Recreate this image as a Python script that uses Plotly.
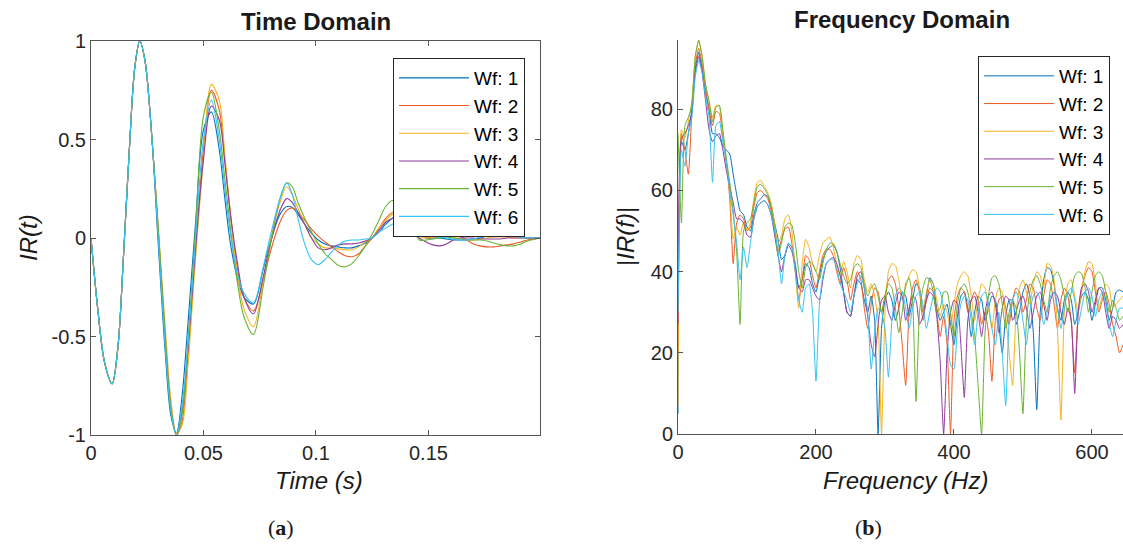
import plotly.graph_objects as go

# ---------------- Time domain data ----------------
t = [0, 0.003, 0.006, 0.0094, 0.012, 0.0145, 0.017, 0.0195, 0.0217, 0.024, 0.027,
     0.030, 0.033, 0.0355, 0.038, 0.0405, 0.043, 0.0465, 0.050, 0.0535, 0.057, 0.0595,
     0.062, 0.065, 0.068, 0.0722, 0.0765, 0.0795, 0.084, 0.087, 0.0895, 0.092, 0.095,
     0.098, 0.101, 0.104, 0.107, 0.110, 0.113, 0.116, 0.119, 0.122, 0.125, 0.128,
     0.131, 0.134, 0.137, 0.140, 0.143, 0.146, 0.149, 0.152, 0.155, 0.158, 0.161,
     0.164, 0.167, 0.170, 0.173, 0.176, 0.179, 0.182, 0.185, 0.188, 0.191, 0.194,
     0.1975, 0.1996]

ir_start = [0, -0.36, -0.63, -0.74, -0.55, -0.08, 0.44, 0.87, 1.0, 0.9, 0.52]

ir_wf1 = ir_start + [-0.05, -0.58, -0.9, -0.99, -0.8, -0.45, 0.08, 0.55, 0.64, 0.45, 0.2,
                     -0.03, -0.2, -0.3, -0.335, -0.16, -0.03, 0.12, 0.16, 0.155, 0.12, 0.07,
                     0.025, -0.01, -0.03, -0.04, -0.045, -0.05, -0.05, -0.04, -0.025, 0.0,
                     0.03, 0.07, 0.1, 0.11, 0.09, 0.05, 0.015, 0.0, 0.0, 0.0, -0.005, -0.01,
                     -0.01, -0.01, -0.005, 0.0, 0.01, 0.015, 0.015, 0.015, 0.01, 0.005, 0.0,
                     0.0, 0.0]
ir_wf2 = ir_start + [0.02, -0.5, -0.85, -1.0, -0.93, -0.62, -0.05, 0.45, 0.75, 0.65, 0.4,
                     0.12, -0.15, -0.3, -0.37, -0.22, -0.08, 0.08, 0.14, 0.153, 0.13, 0.09,
                     0.045, 0.01, -0.02, -0.045, -0.07, -0.09, -0.095, -0.08, -0.04, 0.0,
                     0.05, 0.1, 0.13, 0.14, 0.12, 0.07, 0.02, 0.0, 0.005, 0.01, 0.02, 0.02,
                     0.01, -0.01, -0.03, -0.04, -0.045, -0.045, -0.04, -0.035, -0.03, -0.02,
                     -0.01, -0.005, 0.0]
ir_wf3 = ir_start + [0.04, -0.45, -0.82, -0.99, -0.95, -0.66, -0.1, 0.4, 0.78, 0.7, 0.42,
                     0.12, -0.18, -0.36, -0.45, -0.22, -0.03, 0.18, 0.26, 0.22, 0.15, 0.07,
                     0.0, -0.03, -0.05, -0.05, -0.055, -0.06, -0.06, -0.045, -0.02, 0.0,
                     0.05, 0.09, 0.12, 0.12, 0.1, 0.05, 0.01, 0.0, 0.005, 0.01, 0.01, 0.005,
                     -0.005, -0.01, -0.01, -0.005, 0.0, 0.005, 0.005, 0.005, 0.0, 0.0, 0.0,
                     0.0, 0.0]
ir_wf4 = ir_start + [0.0, -0.52, -0.87, -1.0, -0.88, -0.58, -0.05, 0.4, 0.67, 0.6, 0.38,
                     0.12, -0.12, -0.3, -0.385, -0.2, -0.04, 0.14, 0.2, 0.18, 0.13, 0.07,
                     0.0, -0.05, -0.06, -0.05, -0.035, -0.03, -0.03, -0.025, -0.015, 0.0,
                     0.04, 0.08, 0.1, 0.1, 0.08, 0.04, 0.0, -0.02, -0.035, -0.04, -0.03,
                     -0.01, 0.0, 0.0, 0.0, -0.005, -0.005, -0.005, -0.005, 0.0, 0.0, 0.0,
                     0.0, 0.0, 0.0]
ir_wf5 = ir_start + [0.03, -0.5, -0.86, -1.0, -0.9, -0.55, 0.05, 0.62, 0.74, 0.55, 0.3,
                     0.05, -0.22, -0.4, -0.49, -0.25, -0.05, 0.2, 0.28, 0.26, 0.18, 0.1,
                     0.03, -0.03, -0.08, -0.11, -0.14, -0.146, -0.13, -0.09, -0.04, 0.02,
                     0.09, 0.16, 0.19, 0.18, 0.13, 0.05, -0.01, -0.01, -0.005, 0.0, 0.005,
                     0.0, -0.005, -0.01, -0.01, -0.01, -0.015, -0.025, -0.035, -0.04, -0.04,
                     -0.03, -0.015, -0.005, 0.0]
ir_wf6 = ir_start + [-0.02, -0.55, -0.88, -1.0, -0.85, -0.55, 0.0, 0.5, 0.7, 0.5, 0.25,
                     0.02, -0.18, -0.28, -0.33, -0.15, 0.0, 0.2, 0.28, 0.22, 0.1, -0.03,
                     -0.11, -0.135, -0.11, -0.07, -0.035, -0.015, -0.01, -0.01, -0.005, 0.0,
                     0.03, 0.05, 0.07, 0.08, 0.07, 0.04, 0.015, 0.01, 0.01, 0.005, 0.0,
                     -0.005, -0.01, -0.01, -0.005, 0.005, 0.015, 0.02, 0.02, 0.015, 0.01,
                     0.005, 0.0, 0.0, 0.0]

# ---------------- Frequency domain data ----------------
freq = list(range(0, 650, 5))

mag_wf1 = [5, 72, 70, 74, 80, 90, 94, 90, 84, 80,
           74, 74, 73, 71, 70, 69, 64, 59, 55, 54,
           51, 50, 54, 57, 58, 59, 58.5, 56, 52, 48,
           43, 44, 47, 46, 42, 36, 38, 42, 41, 37,
           35, 39, 43, 45, 46, 46.5, 45, 41, 35, 30,
           29, 34, 38, 37, 33, 30, 34, 28, 0, 26,
           33, 35, 33, 28, 31, 35, 34, 29, 33, 37,
           36, 30, 34, 38.5, 37, 31, 28, 30, 32, 27,
           22, 29, 34, 35, 31, 24, 30, 34, 33, 28,
           31, 34, 33, 27, 20, 29, 33, 33, 27, 30,
           35, 37, 34, 25, 6, 30, 38, 41, 40.5, 37,
           31, 28, 33, 35, 33, 27, 30, 34, 35, 33,
           28, 32, 36, 36, 33, 28, 31, 35, 35.5, 35]
mag_wf2 = [20, 74, 70, 64, 79, 91, 95, 91, 85, 80,
           76, 79.5, 79, 73, 67, 58, 42, 52, 54, 53,
           50, 51, 56, 59.5, 60, 59, 58, 55, 50, 45,
           48, 50.5, 51, 47, 40, 33, 38, 44, 43, 39,
           36, 40, 44, 45.5, 45.5, 44, 40, 37, 41, 38,
           33, 37, 40, 38, 31, 26, 32, 36, 35, 30,
           34, 38, 39, 37, 31, 22, 12, 30, 36, 38,
           35, 28, 33, 36, 35, 30, 24, 29, 22, 0,
           28, 34, 36, 35, 30, 33, 35, 33, 27, 30,
           25, 13, 28, 33, 34, 31, 27, 33, 36, 35,
           30, 33, 37, 36, 31, 28, 34, 38, 37, 32,
           26, 33, 36, 34, 28, 15, 30, 36, 39, 41,
           40, 35, 30, 33, 35, 32, 27, 24, 20, 22]
mag_wf3 = [7, 75, 73, 77, 82, 93, 97, 93, 86, 82,
           78, 81, 80.5, 74, 67, 60, 48, 51, 49, 52,
           50, 52, 58, 62, 62.5, 61, 59.5, 57, 52, 47,
           49, 53, 54, 50, 40, 31, 42, 48, 46, 42,
           40, 44, 47, 48, 48.5, 46, 42, 39, 42.5, 40,
           36, 42, 44, 43, 38, 35, 37, 34, 28, 0,
           30, 40, 42, 41.5, 38, 33, 36, 39, 40.5, 40,
           36, 30, 35, 38, 37, 33, 29, 32, 30, 26,
           32, 37, 39, 40, 39, 34, 28, 33, 37, 36,
           31, 26, 33, 36, 35, 29, 20, 12, 30, 36,
           38, 35, 32, 37, 40, 39, 36, 42, 41.5, 38,
           26, 3.5, 30, 37, 38, 34, 30, 35, 40, 42.5,
           42, 37, 31, 34, 37, 36, 31, 32, 33, 34]
mag_wf4 = [27, 73, 74, 76, 79, 89, 93, 89, 82, 75,
           72, 73.5, 74, 70, 65, 61, 57, 53, 53, 52,
           49, 48.5, 53, 56, 57, 57.5, 56.5, 54, 49, 44,
           40, 44, 46.5, 45, 41, 36, 35, 38, 38, 36,
           34, 33, 38, 42, 43, 43.5, 42, 39, 35, 30,
           29, 34, 39, 40, 36, 29, 22, 19, 27, 33,
           34, 30, 28, 32, 35, 34, 28, 31, 34, 33,
           27, 29, 33, 35, 34, 29, 18, 0, 20, 30,
           33, 32, 22, 9, 28, 33, 34, 30, 24, 30,
           34, 35, 32, 25, 31, 34, 33, 28, 30, 33,
           34, 31, 26, 30, 34, 35, 32, 28, 33, 35,
           34, 30, 27, 31, 28, 10, 30, 36, 37, 35,
           30, 33, 36, 35, 30, 26, 29, 28, 26, 27]
mag_wf5 = [74, 52, 76, 78, 81, 93, 97, 93, 86, 82,
           77, 80.5, 81, 75, 68, 62, 55, 45, 27, 50,
           52, 53, 57, 61, 61.5, 60.5, 59, 56, 51, 44,
           47, 51, 52, 51.5, 47, 40, 36, 41, 42.5, 42,
           40, 38, 42, 45.5, 47, 47, 45, 42, 39, 37,
           38, 41, 42, 41, 37, 34, 36, 37, 34, 30,
           34, 37, 36, 31, 25, 30, 37, 38.5, 33, 8,
           30, 36, 38.5, 38, 35, 30, 31, 35, 35, 30,
           24, 32, 36, 37, 35, 30, 24, 12, 0, 25,
           34, 38.5, 39, 37, 32, 26, 30, 33, 31, 20,
           5, 28, 35, 38, 39, 37, 33, 30, 36, 39,
           40, 38, 34, 30, 35, 39, 40, 39.5, 36, 30,
           35, 39, 40, 39, 35, 30, 33, 31, 28, 29]
mag_wf6 = [30, 70, 66, 74, 78, 88, 92, 89, 83, 78,
           62, 76, 77, 72, 67, 60, 54, 47, 38, 46,
           41, 47, 53, 56, 57, 57.5, 56.5, 54, 50, 45,
           37, 44, 47, 46, 40, 33, 30, 36, 37, 30,
           13, 32, 39, 42, 43, 43, 41, 37, 35, 33,
           30, 34, 37, 39, 36, 30, 16, 25, 31, 30,
           26, 14, 28, 34, 36, 35, 31, 26, 31, 34,
           35, 32, 26, 30, 34, 36, 35, 31, 24, 17,
           16, 26, 32, 34, 33, 28, 22, 30, 34, 35,
           32, 26, 22, 30, 20, 7, 28, 33, 35, 33,
           28, 22, 30, 34, 35, 33, 27, 30, 34, 35,
           31, 26, 31, 35, 36, 33, 27, 31, 35, 36,
           34, 29, 33, 35, 32, 27, 24, 28, 31, 31]

names = ["Wf: 1", "Wf: 2", "Wf: 3", "Wf: 4", "Wf: 5", "Wf: 6"]
colors = ["#0072BD", "#EE5A24", "#F5B21A", "#8E3B9E", "#68B232", "#35C3F2"]
time_series = [ir_wf1, ir_wf2, ir_wf3, ir_wf4, ir_wf5, ir_wf6]
freq_series = [mag_wf1, mag_wf2, mag_wf3, mag_wf4, mag_wf5, mag_wf6]

FONT = "Liberation Sans, Arial, Helvetica, sans-serif"
W, H = 1123, 544

fig = go.Figure()
for i in range(6):
    fig.add_trace(go.Scatter(
        x=t, y=time_series[i], mode="lines", name=names[i],
        line=dict(color=colors[i], width=1.1, shape="spline", smoothing=0.9),
        xaxis="x", yaxis="y", legend="legend", legendgroup=f"t{i}"))
for i in range(6):
    fig.add_trace(go.Scatter(
        x=freq, y=freq_series[i], mode="lines", name=names[i],
        line=dict(color=colors[i], width=1.0, shape="spline", smoothing=0.5),
        xaxis="x2", yaxis="y2", legend="legend2", legendgroup=f"f{i}"))

axis_common = dict(showgrid=False, zeroline=False, showline=True, linecolor="#555555",
                   linewidth=1, ticks="inside", ticklen=5, tickcolor="#555555",
                   automargin=False,
                   tickfont=dict(family=FONT, size=20, color="#262626"))

legend_common = dict(xanchor="left", yanchor="top", bgcolor="white",
                     bordercolor="#262626", borderwidth=1,
                     font=dict(family=FONT, size=19, color="black"),
                     tracegroupgap=0, itemwidth=70)

fig.update_layout(
    width=W, height=H, margin=dict(l=0, r=0, t=0, b=0, pad=0, autoexpand=False),
    paper_bgcolor="white", plot_bgcolor="white",
    xaxis=dict(domain=[91 / W, 540 / W], range=[0, 0.1996], anchor="y",
               tickvals=[0, 0.05, 0.1, 0.15], ticktext=["0", "0.05", "0.1", "0.15"],
               mirror="ticks", **axis_common),
    yaxis=dict(domain=[1 - 435 / H, 1 - 41 / H], range=[-1, 1], anchor="x",
               tickvals=[-1, -0.5, 0, 0.5, 1], ticktext=["-1", "-0.5", "0", "0.5", "1"],
               mirror="ticks", **axis_common),
    xaxis2=dict(domain=[678 / W, 1.0], range=[0, 645], anchor="y2",
                tickvals=[0, 200, 400, 600], **axis_common),
    yaxis2=dict(domain=[1 - 434 / H, 1 - 39.5 / H], range=[0, 97.2], anchor="x2",
                tickvals=[0, 20, 40, 60, 80], **axis_common),
    legend=dict(x=393 / W, y=1 - 58 / H, **legend_common),
    legend2=dict(x=978 / W, y=1 - 56 / H, **legend_common),
)

ann = [
    dict(text="<b>Time Domain</b>", x=316 / W, y=1 - 22 / H, size=24, angle=0, fam=FONT),
    dict(text="<b>Frequency Domain</b>", x=902 / W, y=1 - 20 / H, size=24, angle=0, fam=FONT),
    dict(text="<i>Time (s)</i>", x=319 / W, y=1 - 480 / H, size=24, angle=0, fam=FONT),
    dict(text="<i>Frequency (Hz)</i>", x=905 / W, y=1 - 480 / H, size=24, angle=0, fam=FONT),
    dict(text="<i>IR(t)</i>", x=28 / W, y=1 - 238 / H, size=24, angle=-90, fam=FONT),
    dict(text="|<i>IR(f)</i>|", x=625 / W, y=1 - 237 / H, size=24, angle=-90, fam=FONT),
    dict(text="(<b>a</b>)", x=281 / W, y=1 - 527 / H, size=22, angle=0,
         fam="Liberation Serif, Times New Roman, serif"),
    dict(text="(<b>b</b>)", x=868 / W, y=1 - 527 / H, size=22, angle=0,
         fam="Liberation Serif, Times New Roman, serif"),
]
for a in ann:
    fig.add_annotation(text=a["text"], x=a["x"], y=a["y"], xref="paper", yref="paper",
                       showarrow=False, textangle=a["angle"], xanchor="center", yanchor="middle",
                       font=dict(family=a["fam"], size=a["size"], color="#1a1a1a"))

fig.write_html("out.html", config={"displayModeBar": False},
               post_script="document.body.style.margin='0';document.body.style.padding='0';"
                           "document.body.style.overflow='hidden';")
